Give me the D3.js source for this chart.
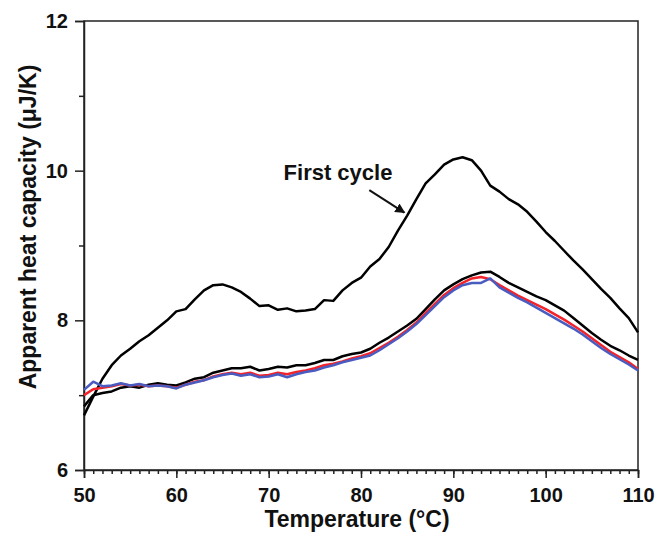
<!DOCTYPE html>
<html>
<head>
<meta charset="utf-8">
<script src="https://cdn.jsdelivr.net/npm/d3@7"></script>
<style>
  body { margin: 0; background: #fff; }
  svg text { font-family: "Liberation Sans", Arial, sans-serif; font-weight: bold; }
</style>
</head>
<body>
<script>
// temperatures, one reading per degree
const temps = d3.range(50, 111);

const firstCycle = [6.73, 6.98, 7.22, 7.40, 7.53, 7.62, 7.72, 7.80, 7.90, 8.00,
  8.12, 8.15, 8.28, 8.40, 8.47, 8.48, 8.44, 8.38, 8.29, 8.19,
  8.20, 8.14, 8.16, 8.12, 8.13, 8.15, 8.27, 8.26, 8.40, 8.50,
  8.57, 8.72, 8.82, 8.98, 9.20, 9.40, 9.62, 9.83, 9.95, 10.08,
  10.15, 10.18, 10.14, 10.00, 9.80, 9.72, 9.62, 9.55, 9.45, 9.32,
  9.18, 9.06, 8.93, 8.80, 8.68, 8.55, 8.42, 8.30, 8.16, 8.03, 7.84];

const secondCycle = [6.85, 7.00, 7.03, 7.05, 7.10, 7.12, 7.10, 7.14, 7.16, 7.14,
  7.13, 7.17, 7.22, 7.24, 7.30, 7.33, 7.36, 7.36, 7.38, 7.33,
  7.35, 7.38, 7.37, 7.40, 7.40, 7.43, 7.47, 7.47, 7.52, 7.55,
  7.57, 7.62, 7.70, 7.77, 7.85, 7.93, 8.02, 8.15, 8.28, 8.40,
  8.48, 8.55, 8.60, 8.64, 8.65, 8.58, 8.50, 8.44, 8.38, 8.32,
  8.27, 8.20, 8.13, 8.03, 7.93, 7.83, 7.74, 7.66, 7.60, 7.53, 7.47];

const redCycle = [7.00, 7.08, 7.10, 7.12, 7.15, 7.13, 7.14, 7.12, 7.13, 7.12,
  7.10, 7.14, 7.18, 7.20, 7.25, 7.28, 7.30, 7.28, 7.30, 7.26,
  7.27, 7.30, 7.28, 7.31, 7.33, 7.36, 7.40, 7.42, 7.45, 7.49,
  7.52, 7.56, 7.63, 7.70, 7.78, 7.87, 7.97, 8.10, 8.22, 8.34,
  8.43, 8.50, 8.56, 8.58, 8.55, 8.47, 8.40, 8.33, 8.27, 8.21,
  8.15, 8.08, 8.01, 7.93, 7.85, 7.76, 7.67, 7.58, 7.51, 7.44, 7.35];

const blueCycle = [7.07, 7.18, 7.12, 7.13, 7.16, 7.13, 7.15, 7.12, 7.13, 7.12,
  7.09, 7.14, 7.17, 7.20, 7.24, 7.27, 7.29, 7.26, 7.28, 7.24,
  7.25, 7.28, 7.24, 7.28, 7.31, 7.33, 7.37, 7.40, 7.44, 7.47,
  7.50, 7.53, 7.60, 7.68, 7.76, 7.85, 7.95, 8.07, 8.19, 8.31,
  8.40, 8.47, 8.50, 8.50, 8.56, 8.44, 8.37, 8.30, 8.24, 8.17,
  8.10, 8.03, 7.96, 7.89, 7.81, 7.72, 7.63, 7.55, 7.48, 7.41, 7.33];

const xTicks = [50, 60, 70, 80, 90, 100, 110];
const yTicks = [6, 8, 10, 12];

const W = 658, H = 534;
const margin = {top: 21, right: 20, bottom: 64, left: 84};

const svg = d3.select('body').append('svg')
  .attr('width', W)
  .attr('height', H);

const x = d3.scaleLinear().domain([50, 110]).range([margin.left, W - margin.right]);
const y = d3.scaleLinear().domain([6, 12]).range([H - margin.bottom, margin.top]);

// frame
svg.append('rect')
  .attr('x', margin.left).attr('y', margin.top)
  .attr('width', x(110) - x(50)).attr('height', y(6) - y(12))
  .style('fill', 'none').style('stroke', '#222').style('stroke-width', 1.5);

// x axis: minor ticks every degree, major every 10
const xMinor = svg.append('g')
  .attr('transform', `translate(0,${y(6)})`)
  .call(d3.axisBottom(x).tickValues(d3.range(50, 111)).tickSize(4).tickFormat(''));
xMinor.select('.domain').remove();

const xMajor = svg.append('g')
  .attr('transform', `translate(0,${y(6)})`)
  .call(d3.axisBottom(x).tickValues(xTicks).tickSize(8).tickPadding(10).tickFormat(d3.format('d')));

const yMinor = svg.append('g')
  .attr('transform', `translate(${x(50)},0)`)
  .call(d3.axisLeft(y).tickValues([7, 9, 11]).tickSize(5).tickFormat(''));
yMinor.select('.domain').remove();

const yMajor = svg.append('g')
  .attr('transform', `translate(${x(50)},0)`)
  .call(d3.axisLeft(y).tickValues(yTicks).tickSize(9).tickPadding(7).tickFormat(d3.format('d')));

svg.selectAll('.domain').style('stroke', '#222').style('stroke-width', 1.5);
svg.selectAll('.tick line').style('stroke', '#222').style('stroke-width', 1.5);
svg.selectAll('.tick text')
  .style('font-size', '20px')
  .style('font-weight', 'bold')
  .style('fill', '#111');

// series
const lineDrawer = d3.line()
  .x((d, i) => x(temps[i]))
  .y(d => y(d));

function draw(values, color, width){
  svg.append('path')
    .style('fill', 'none')
    .style('stroke', color)
    .style('stroke-width', width)
    .style('stroke-linejoin', 'round')
    .attr('d', lineDrawer(values));
}

draw(firstCycle, '#000', 2.5);
draw(secondCycle, '#000', 2.5);
draw(redCycle, '#f2232b', 2.5);
draw(blueCycle, '#4a5cc0', 2.5);

// annotation
svg.append('text')
  .attr('x', 338).attr('y', 180)
  .attr('text-anchor', 'middle')
  .style('font-size', '22px')
  .style('fill', '#111')
  .text('First cycle');

svg.append('defs').append('marker')
  .attr('id', 'arrow')
  .attr('viewBox', '0 0 10 10')
  .attr('refX', 9).attr('refY', 5)
  .attr('markerWidth', 5).attr('markerHeight', 5)
  .attr('orient', 'auto')
  .append('path')
  .attr('d', 'M0,0 L10,5 L0,10 z')
  .style('fill', '#111');

svg.append('line')
  .attr('x1', x(80.9)).attr('y1', y(9.74))
  .attr('x2', x(84.7)).attr('y2', y(9.44))
  .style('stroke', '#111').style('stroke-width', 2)
  .attr('marker-end', 'url(#arrow)');

// axis titles
svg.append('text')
  .attr('x', 357)
  .attr('y', H - 7)
  .attr('text-anchor', 'middle')
  .style('font-size', '23px')
  .style('fill', '#111')
  .text('Temperature (°C)');

svg.append('text')
  .attr('transform', `translate(36,227) rotate(-90)`)
  .attr('text-anchor', 'middle')
  .style('font-size', '23px')
  .style('fill', '#111')
  .text('Apparent heat capacity (μJ/K)');
</script>
</body>
</html>
